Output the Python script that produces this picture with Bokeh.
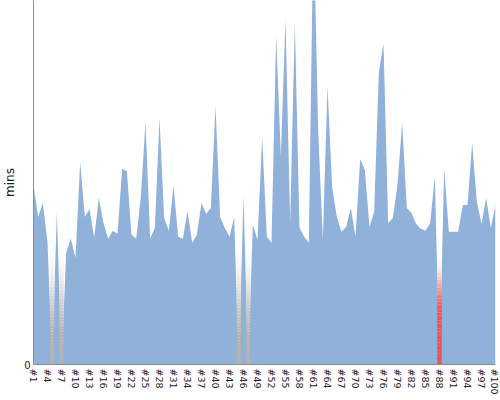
from bokeh.plotting import figure
from bokeh.models import Range1d, FixedTicker, ColumnDataSource
from bokeh.embed import file_html
from bokeh.resources import INLINE

# ---- data ----
categories = ["#%d" % i for i in range(1, 101)]
minutes = [
    18.0, 14.8, 16.2, 12.3, 0.0, 15.3, 0.0, 11.2, 12.6, 10.7,
    20.3, 14.8, 15.6, 12.7, 16.7, 14.2, 12.6, 13.4, 13.1, 19.6,
    19.4, 13.0, 12.6, 16.8, 24.3, 12.6, 13.7, 24.7, 14.7, 13.4,
    17.9, 12.8, 12.6, 15.4, 12.2, 13.0, 16.2, 15.1, 15.7, 25.9,
    14.8, 13.7, 12.8, 14.8, 0.0, 17.0, 0.0, 14.0, 12.5, 22.8,
    12.8, 12.2, 33.0, 20.9, 34.6, 14.3, 34.3, 13.7, 12.8, 12.2,
    45.0, 23.5, 12.5, 27.9, 17.8, 14.8, 13.3, 13.8, 15.7, 12.8,
    20.6, 19.5, 13.8, 15.3, 29.3, 32.2, 14.2, 14.7, 18.0, 24.3,
    15.7, 15.2, 14.1, 13.6, 13.4, 14.2, 18.8, 0.0, 19.7, 13.3,
    13.3, 13.3, 16.0, 16.0, 22.2, 16.3, 14.1, 16.7, 13.7, 16.0,
]
missing_gray = ["#5", "#7", "#45", "#47"]
missing_red = ["#88"]
tick_labels = categories[::3]

# ---- figure ----
xs = list(range(1, len(categories) + 1))
pos = {c: i + 1 for i, c in enumerate(categories)}

p = figure(frame_width=462, frame_height=364, output_backend="svg",
           toolbar_location=None,
           x_range=Range1d(1, len(categories)), y_range=Range1d(0, 36.5),
           min_border_left=0, min_border_right=4, min_border_top=0,
           min_border_bottom=0)
p.grid.visible = False
p.outline_line_color = None
p.background_fill_color = "white"

p.varea(x=xs, y1=[0] * len(xs), y2=minutes, fill_color="#8fb1da")


def gradient(cats, base, height, solid_frac, n=40):
    left, right, bottom, top, colors = [], [], [], [], []
    for c in cats:
        x = pos[c]
        for k in range(n):
            t0 = k / n
            t1 = (k + 1) / n
            tm = (t0 + t1) / 2
            if tm <= solid_frac:
                f = 0.0
            else:
                f = (tm - solid_frac) / (1 - solid_frac)
                f = f * f * (3 - 2 * f)
            r = int(base[0] + (255 - base[0]) * f)
            g = int(base[1] + (255 - base[1]) * f)
            b = int(base[2] + (255 - base[2]) * f)
            left.append(x - 0.48)
            right.append(x + 0.48)
            bottom.append(height * t0)
            top.append(height * t1)
            colors.append("#%02x%02x%02x" % (r, g, b))
    return ColumnDataSource(dict(left=left, right=right, bottom=bottom,
                                 top=top, color=colors))


src_gray = gradient(missing_gray, (178, 178, 178), 12.0, 0.15)
src_red = gradient(missing_red, (240, 82, 82), 11.0, 0.45)
for src in (src_gray, src_red):
    p.quad(left="left", right="right", bottom="bottom", top="top",
           fill_color="color", line_color=None, source=src)

# x axis
p.xaxis.ticker = FixedTicker(ticks=[pos[c] for c in tick_labels])
p.xaxis.major_label_overrides = {pos[c]: c for c in tick_labels}
p.xaxis.major_label_orientation = "vertical"
p.xaxis.major_label_text_font = "DejaVu Sans"
p.xaxis.major_label_text_font_size = "9.5px"
p.xaxis.major_label_text_color = "#222222"
p.xaxis.major_label_standoff = 4
p.xaxis.axis_label_standoff = 0
p.xaxis.major_tick_line_color = None
p.xaxis.major_tick_out = 0
p.xaxis.major_tick_in = 0
p.xaxis.minor_tick_line_color = None
p.xaxis.minor_tick_out = 0
p.xaxis.axis_line_color = "#8c8c8c"

# y axis
p.yaxis.ticker = FixedTicker(ticks=[0])
p.yaxis.axis_label = "mins"
p.yaxis.axis_label_text_font = "DejaVu Sans"
p.yaxis.axis_label_text_font_style = "normal"
p.yaxis.axis_label_text_font_size = "12px"
p.yaxis.axis_label_text_color = "#222222"
p.yaxis.axis_label_standoff = 4
p.yaxis.major_label_text_font = "DejaVu Sans"
p.yaxis.major_label_text_font_size = "10px"
p.yaxis.major_label_text_color = "#222222"
p.yaxis.major_label_standoff = 3
p.yaxis.major_tick_line_color = None
p.yaxis.major_tick_out = 0
p.yaxis.major_tick_in = 0
p.yaxis.minor_tick_line_color = None
p.yaxis.minor_tick_out = 0
p.yaxis.axis_line_color = "#8c8c8c"

open("out.html", "w").write(file_html(p, INLINE))
